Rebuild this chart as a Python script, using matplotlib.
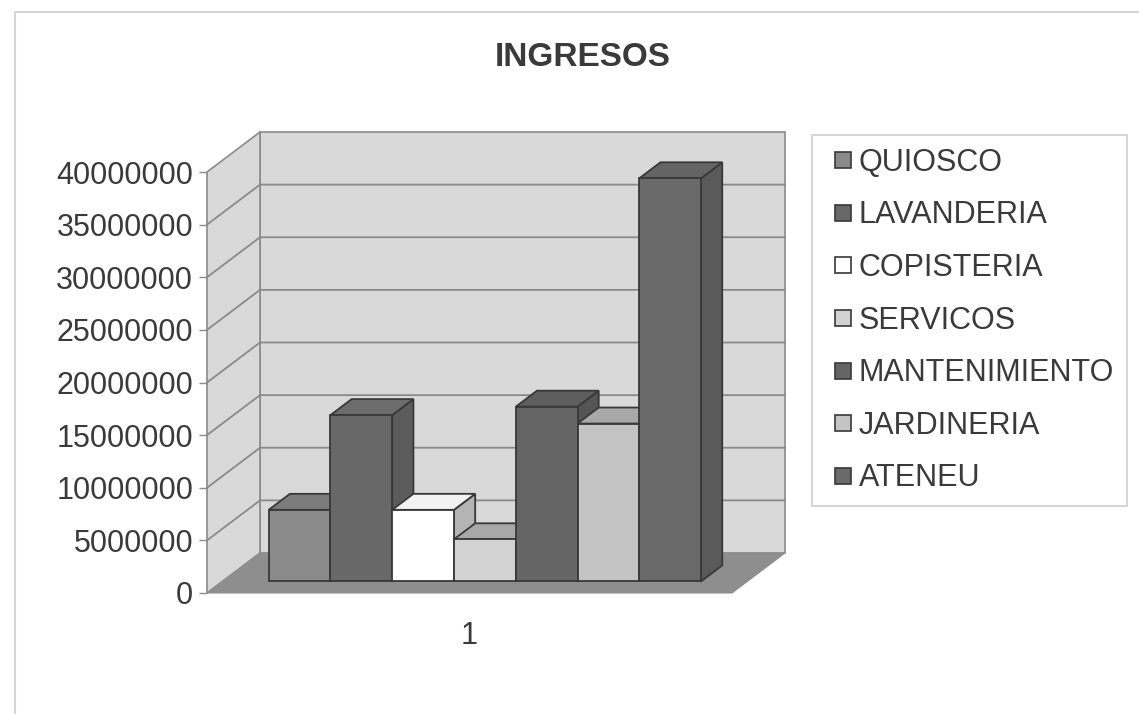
import matplotlib
matplotlib.use("Agg")
import matplotlib.pyplot as plt
from matplotlib.patches import Polygon, Rectangle
from matplotlib.lines import Line2D

plt.rcParams["font.family"] = ["Liberation Sans", "DejaVu Sans"]

# ---- data -------------------------------------------------------------
title = "INGRESOS"
categories = ["1"]
series_names = ["QUIOSCO", "LAVANDERIA", "COPISTERIA", "SERVICOS",
                "MANTENIMIENTO", "JARDINERIA", "ATENEU"]
series_values = [6800000, 15800000, 6800000, 4000000,
                 16600000, 15000000, 38300000]
y_ticks = [0, 5000000, 10000000, 15000000, 20000000,
           25000000, 30000000, 35000000, 40000000]

# ---- styling ------------------------------------------------------------
front_colors = ["#8a8a8a", "#686868", "#ffffff", "#d2d2d2",
                "#656565", "#c4c4c4", "#6a6a6a"]
top_colors = ["#7c7c7c", "#6c6c6c", "#f2f2f2", "#a8a8a8",
              "#5e5e5e", "#a9a9a9", "#646464"]
side_colors = ["#707070", "#5c5c5c", "#b4b4b4", "#9a9a9a",
               "#555555", "#9c9c9c", "#5a5a5a"]
edge_col = "#383838"
wall_col = "#d9d9d9"
floor_col = "#8e8e8e"
grid_col = "#8a8a8a"
text_col = "#3a3a3a"

W, H, DPI = 1139, 714, 100
fig = plt.figure(figsize=(W / DPI, H / DPI), dpi=DPI)
fig.patch.set_facecolor("white")

# front plane of the 3-D box
ax = fig.add_axes([207 / W, 121 / H, 525 / W, 421 / H])
ax.set_xlim(0, 1)
ax.set_ylim(0, y_ticks[-1])
ax.patch.set_visible(False)
for s in ax.spines.values():
    s.set_visible(False)

# oblique depth offset (pixels for a full unit of depth) -> data units
DEPTH_PX = (53, 40)
ax_w_px = 525
ax_h_px = 421
ddx = DEPTH_PX[0] / ax_w_px
ddy = DEPTH_PX[1] / ax_h_px * y_ticks[-1]


def proj(x, y, d):
    return (x + d * ddx, y + d * ddy)


def face(points, fc, ec=edge_col, lw=1.3, z=1):
    poly = Polygon([proj(*p) for p in points], closed=True, facecolor=fc,
                   edgecolor=ec, linewidth=lw, zorder=z, clip_on=False,
                   joinstyle="miter")
    ax.add_patch(poly)


ymax = y_ticks[-1]
# walls and floor
face([(0, 0, 1), (1, 0, 1), (1, ymax, 1), (0, ymax, 1)], wall_col, ec=grid_col, lw=1.2, z=1)
face([(0, 0, 0), (0, 0, 1), (0, ymax, 1), (0, ymax, 0)], wall_col, ec=grid_col, lw=1.2, z=1)
for v in y_ticks[1:-1]:
    xs, ys = zip(proj(0, v, 0), proj(0, v, 1), proj(1, v, 1))
    ax.add_line(Line2D(xs, ys, color=grid_col, lw=1.3, zorder=2, clip_on=False))
face([(0, 0, 0), (1, 0, 0), (1, 0, 1), (0, 0, 1)], floor_col, ec=floor_col, lw=0.8, z=3)

# bars: gap width 150 % within the single category, centred in depth
n = len(series_values)
bw = 1.0 / (n + 1.5)
d0, d1 = 0.29, 0.69
for i, v in enumerate(series_values):
    xl = 0.75 * bw + i * bw
    xr = xl + bw
    z = 10 + i
    face([(xr, 0, d0), (xr, 0, d1), (xr, v, d1), (xr, v, d0)], side_colors[i], z=z)
    face([(xl, v, d0), (xr, v, d0), (xr, v, d1), (xl, v, d1)], top_colors[i], z=z)
    face([(xl, 0, d0), (xr, 0, d0), (xr, v, d0), (xl, v, d0)], front_colors[i], z=z)

# axes ticks and labels
ax.set_yticks(y_ticks)
ax.set_yticklabels([str(t) for t in y_ticks])
ax.tick_params(axis="y", length=6, width=1.0, color=grid_col, pad=4,
               labelsize=22, labelcolor=text_col)
ax.set_xticks([0.5])
ax.set_xticklabels(categories)
ax.tick_params(axis="x", length=0, pad=20, labelsize=22, labelcolor=text_col)

fig.text(583 / W, 1 - 58 / H, title, ha="center", va="center",
         fontsize=24, fontweight="bold", color=text_col)

handles = [Line2D([], [], linestyle="None", marker="s", markersize=11.5,
                  markerfacecolor=front_colors[i], markeredgecolor=edge_col,
                  markeredgewidth=1.2)
           for i in range(n)]
leg = fig.legend(handles, series_names, loc="upper left",
                 bbox_to_anchor=(812 / W, 1 - 135 / H),
                 fontsize=22, frameon=True, fancybox=False,
                 edgecolor="#c4c4c4", handlelength=1.2,
                 handletextpad=-0.1, labelspacing=0.74, borderpad=0.42,
                 borderaxespad=0)
leg.get_frame().set_linewidth(1.2)
for t in leg.get_texts():
    t.set_color(text_col)

# outer chart-area border
fig.patches.append(Rectangle((15 / W, -0.1), 1.2, (H - 12) / H + 0.1,
                             transform=fig.transFigure, fill=False,
                             edgecolor="#d6d6d6", linewidth=1.5))

fig.savefig("out.png", dpi=DPI)
